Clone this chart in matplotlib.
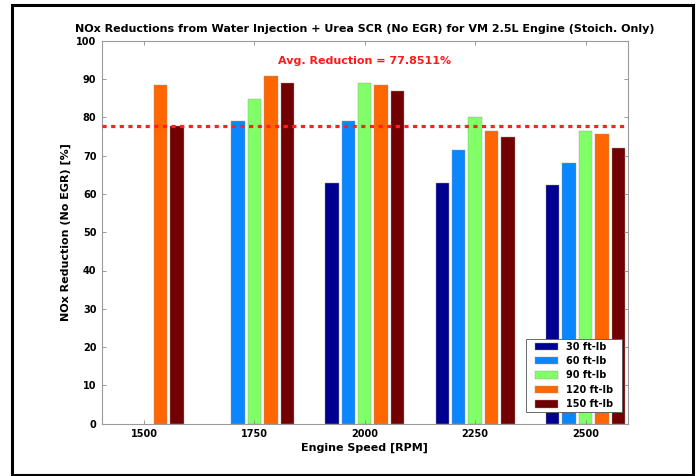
import numpy as np
import matplotlib
matplotlib.use("Agg")
import matplotlib.pyplot as plt
from matplotlib.patches import Rectangle
from matplotlib.path import Path

plt.rcParams['font.family'] = ['DejaVu Sans']
plt.rcParams['font.weight'] = 'bold'

speeds = ['1500', '1750', '2000', '2250', '2500']
loads = ['30 ft-lb', '60 ft-lb', '90 ft-lb', '120 ft-lb', '150 ft-lb']
nan = np.nan
red_30 = [nan, nan, 63.0, 63.0, 62.4]
red_60 = [nan, 79.1, 79.1, 71.5, 68.1]
red_90 = [nan, 84.8, 89.0, 80.2, 76.4]
red_120 = [88.4, 90.9, 88.4, 76.5, 75.8]
red_150 = [77.8, 89.0, 86.8, 74.8, 72.0]
avg_reduction = 77.8511

series = [red_30, red_60, red_90, red_120, red_150]
colors = ['#000090', '#0a86ff', '#80ff66', '#ff6600', '#730000']

fig = plt.figure(figsize=(6.98, 4.76), dpi=100)
ax = fig.add_axes([102/698, (476-423.5)/476, 525.5/698, 382.5/476])

x = np.arange(1, len(speeds) + 1)
pitch = 0.149
width = 0.122
for i, (vals, c, lab) in enumerate(zip(series, colors, loads)):
    ax.bar(x + (i - 2) * pitch, vals, width=width, color=c, label=lab,
           edgecolor='#9a9a9a', linewidth=0.3)

ax.axhline(avg_reduction, color='#ff2020', linewidth=2.3,
           linestyle=(0, (1.3, 1.4)), zorder=3)
ax.text(3, 94.8, 'Avg. Reduction = %.4f%%' % avg_reduction, color='#ff1a1a',
        fontsize=8, fontweight='bold', ha='center', va='center')

ax.set_xlim(1 - 0.38, 5 + 0.38)
ax.set_ylim(0, 100)
ax.set_xticks(x)
ax.set_xticklabels(speeds, fontweight='bold')
ax.set_yticks(np.arange(0, 101, 10))
ax.set_yticklabels([str(v) for v in range(0, 101, 10)], fontweight='bold')
ax.tick_params(direction='in', length=3, width=0.6, color='#8a8a8a',
               labelsize=7, top=True, right=True, pad=4)
for s in ax.spines.values():
    s.set_color('#9a9a9a')
    s.set_linewidth(0.8)

ax.set_title('NOx Reductions from Water Injection + Urea SCR (No EGR) for VM 2.5L Engine (Stoich. Only)',
             fontsize=8, fontweight='bold', pad=6.2)
ax.set_xlabel('Engine Speed [RPM]', fontsize=8, fontweight='bold', labelpad=3)
ax.set_ylabel('NOx Reduction (No EGR) [%]', fontsize=8, fontweight='bold', labelpad=4)

leg = ax.legend(loc='lower right', bbox_to_anchor=(0.9776, 0.031), borderaxespad=0,
                prop={'size': 7, 'weight': 'bold'}, fancybox=False, framealpha=1,
                edgecolor='#555555',
                handlelength=2.37, handleheight=0.82, labelspacing=0.45,
                handletextpad=0.85, borderpad=0.25)
leg.get_frame().set_linewidth(0.6)


def wide_box(x0, y0, w, h, mutation_size):
    dx = 6.0
    verts = [(x0 - dx, y0), (x0 + w + dx, y0), (x0 + w + dx, y0 + h),
             (x0 - dx, y0 + h), (x0 - dx, y0)]
    return Path(verts, closed=True)


leg.get_frame().set_boxstyle(wide_box)

fig.patches.append(Rectangle((12/698, 1/476), (693-12)/698, (475-5)/476,
                             transform=fig.transFigure, fill=False,
                             edgecolor='black', linewidth=2.2))

fig.savefig('out.png', dpi=100)
